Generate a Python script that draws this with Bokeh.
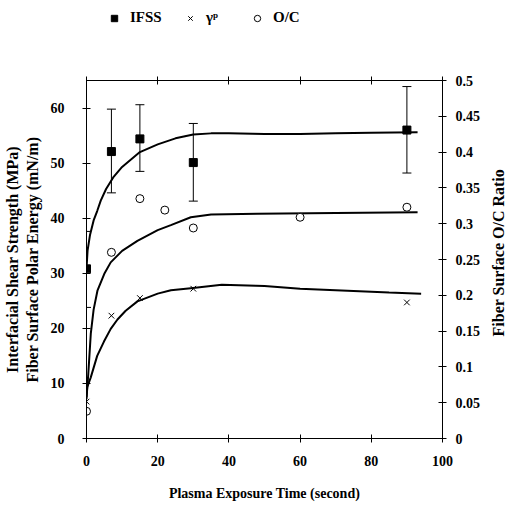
import math
from bokeh.plotting import figure
from bokeh.layouts import column, row
from bokeh.models import (ColumnDataSource, Range1d, LinearAxis, FixedTicker, Whisker,
                          TeeHead, Legend, LegendItem, CustomJSTickFormatter, Label)
from bokeh.embed import file_html
from bokeh.resources import INLINE

# ---- data ----
time_ifss = [0, 7, 15, 30, 90]
ifss = [30.8, 52.1, 54.4, 50.1, 56.0]
ifss_low = [23.8, 44.6, 48.5, 43.1, 48.2]
ifss_high = [37.6, 59.8, 60.6, 57.2, 63.9]

time_gp = [0, 7, 15, 30, 90]
gamma_p = [6.7, 22.3, 25.5, 27.2, 24.7]

time_oc = [0, 7, 15, 22, 30, 60, 90]
oc_ratio = [0.038, 0.260, 0.335, 0.319, 0.294, 0.309, 0.323]

fit_ifss_t = [0, 0.3, 1, 2, 3, 4, 5.5, 7.5, 10, 15, 20, 25, 30, 35, 40, 50, 60, 70, 80, 93]
fit_ifss = [30.8, 34.1, 37.0, 39.6, 41.3, 43.2, 45.3, 47.4, 49.3, 52.0, 53.4, 54.5, 55.2, 55.4,
            55.4, 55.3, 55.3, 55.4, 55.5, 55.6]

fit_oc_t = [0, 0.2, 0.5, 1.2, 2, 3.1, 5, 6.8, 10, 14.3, 20, 23.7, 29.3, 35, 48, 70, 93]
fit_oc = [0.055, 0.070, 0.090, 0.146, 0.180, 0.207, 0.230, 0.246, 0.262, 0.276, 0.291, 0.298,
          0.309, 0.313, 0.314, 0.315, 0.316]

fit_gp_t = [0, 0.2, 1.2, 3, 4.9, 6.8, 8.7, 11, 14.3, 20, 23.7, 29.3, 38, 50, 60, 75, 85, 94]
fit_gp = [7.5, 9.3, 11.1, 15.0, 17.6, 19.9, 21.6, 23.2, 24.9, 26.3, 26.9, 27.3, 27.9, 27.7,
          27.2, 26.8, 26.5, 26.3]

x_ticks = [0, 20, 40, 60, 80, 100]
left_ticks = [0, 10, 20, 30, 40, 50, 60]
right_ticks = [0, 0.05, 0.1, 0.15, 0.2, 0.25, 0.3, 0.35, 0.4, 0.45, 0.5]

legend_labels = ["IFSS", "γᵖ", "O/C"]
right_title = "Fiber Surface O/C Ratio"

FONT = "Liberation Serif"
W = 510
LEG_H = 36
MAIN_W = 484
MAIN_H = 510 - LEG_H
RIGHT_W = W - MAIN_W

# ---------------- legend strip ----------------
lg = figure(width=W, height=LEG_H, output_backend="svg", toolbar_location=None,
            x_range=Range1d(0, 1), y_range=Range1d(0, 1),
            min_border_left=0, min_border_right=0, min_border_top=0, min_border_bottom=0)
lg.axis.visible = False
lg.xgrid.visible = False
lg.ygrid.visible = False
lg.outline_line_color = None
# legend-only renderers (their single point lies outside the visible strip)
lg_sq = lg.scatter(x=[-5], y=[-5], marker="square", size=8, fill_color="black", line_color="black")
lg_x = lg.scatter(x=[-5], y=[-5], marker="x", size=7, line_color="black", line_width=1)
lg_o = lg.scatter(x=[-5], y=[-5], marker="circle", size=8, fill_color="white", line_color="black")
for lab, rend, xpos in zip(legend_labels, [lg_sq, lg_x, lg_o], [106, 182, 249]):
    leg = Legend(items=[LegendItem(label=lab, renderers=[rend])], location=(xpos, 10),
                 label_text_font=FONT, label_text_font_size="15px", label_text_color="black",
                 label_text_font_style="bold",
                 glyph_width=16, glyph_height=16, label_standoff=8, label_height=16,
                 padding=0, margin=0, border_line_color=None, background_fill_alpha=0)
    lg.add_layout(leg)

# ---------------- main chart ----------------
p = figure(width=MAIN_W, height=MAIN_H, output_backend="svg", toolbar_location=None,
           x_range=Range1d(0, 100), y_range=Range1d(0, 65),
           min_border_left=86, min_border_right=MAIN_W - 442, min_border_top=44,
           min_border_bottom=72,
           x_axis_label="Plasma Exposure Time (second)",
           y_axis_label="Fiber Surface Polar Energy (mN/m)")
p.extra_y_ranges = {"oc": Range1d(0, 0.5)}
p.xgrid.visible = False
p.ygrid.visible = False
p.outline_line_color = None


def style_axis(ax, label_size="14px"):
    ax.axis_line_color = "black"
    ax.axis_line_width = 1
    ax.major_tick_line_color = "black"
    ax.major_tick_in = 4
    ax.major_tick_out = 4
    ax.minor_tick_line_color = None
    ax.major_label_text_font = FONT
    ax.major_label_text_font_style = "bold"
    ax.major_label_text_font_size = "14px"
    ax.major_label_text_color = "black"
    ax.axis_label_text_font = FONT
    ax.axis_label_text_font_style = "bold"
    ax.axis_label_text_font_size = label_size
    ax.axis_label_text_color = "black"


xa = p.xaxis[0]
style_axis(xa)
xa.ticker = FixedTicker(ticks=x_ticks)
xa.major_label_standoff = 13
xa.axis_label_standoff = 17

ya = p.yaxis[0]
style_axis(ya, "16px")
ya.ticker = FixedTicker(ticks=left_ticks)
ya.major_label_standoff = 18
ya.axis_label_standoff = 7

# outer left axis carrying the first line of the left title
ya2 = LinearAxis(ticker=FixedTicker(ticks=[]), axis_label="Interfacial Shear Strength (MPa)")
style_axis(ya2, "16px")
ya2.axis_line_color = None
ya2.major_tick_line_color = None
ya2.major_tick_in = 0
ya2.major_tick_out = 0
ya2.major_label_standoff = 0
ya2.axis_label_standoff = 0
p.add_layout(ya2, "left")

top = LinearAxis(ticker=FixedTicker(ticks=x_ticks))
style_axis(top)
top.formatter = CustomJSTickFormatter(code="return '';")
top.major_label_standoff = 0
p.add_layout(top, "above")

right = LinearAxis(y_range_name="oc", ticker=FixedTicker(ticks=right_ticks))
style_axis(right)
right.formatter = CustomJSTickFormatter(
    code="return tick.toFixed(2).replace(/0+$/, '').replace(/\\.$/, '');")
right.major_label_standoff = 9
p.add_layout(right, "right")

# fitted curves
p.line(fit_ifss_t, fit_ifss, line_color="black", line_width=2)
p.line(fit_oc_t, fit_oc, line_color="black", line_width=2, y_range_name="oc")
p.line(fit_gp_t, fit_gp, line_color="black", line_width=2)

# error bars
src_ifss = ColumnDataSource(dict(t=time_ifss, v=ifss, lo=ifss_low, hi=ifss_high))
wh = Whisker(base="t", upper="hi", lower="lo", source=src_ifss, line_color="black", line_width=1,
             upper_head=TeeHead(size=9, line_color="black", line_width=1),
             lower_head=TeeHead(size=9, line_color="black", line_width=1))
p.add_layout(wh)

p.scatter("t", "v", source=src_ifss, marker="square", size=8,
          fill_color="black", line_color="black")
p.scatter(time_gp, gamma_p, marker="x", size=8, line_color="black", line_width=1)
p.scatter(time_oc, oc_ratio, marker="circle", size=8, fill_color="white",
          line_color="black", line_width=1, y_range_name="oc")

# ---------------- right title strip ----------------
rf = figure(width=RIGHT_W, height=MAIN_H, output_backend="svg", toolbar_location=None,
            x_range=Range1d(0, RIGHT_W), y_range=Range1d(0, MAIN_H),
            min_border_left=0, min_border_right=0, min_border_top=0, min_border_bottom=0)
rf.axis.visible = False
rf.xgrid.visible = False
rf.ygrid.visible = False
rf.outline_line_color = None
rf.add_layout(Label(x=14, y=246, text=right_title, angle=math.pi / 2,
                    text_align="center", text_baseline="middle", text_font=FONT,
                    text_font_style="bold", text_font_size="16px", text_color="black"))

layout = column(lg, row(p, rf, spacing=0), spacing=0)
open("out.html", "w").write(file_html(layout, INLINE))
